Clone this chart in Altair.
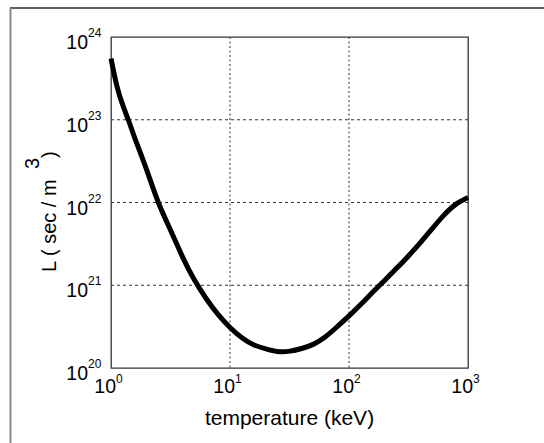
import altair as alt
import pandas as pd

# Curve (temperature in keV, L in sec/m^3)
temperature = [1, 1.12, 1.26, 1.41, 1.58, 2.0, 2.5, 3.2, 4.0, 5.0, 6.3, 7.9, 10, 12.6,
               15.8, 20, 25, 32, 40, 50, 63, 79, 100, 126, 158, 200, 251, 316, 398,
               501, 631, 794, 1000]
lawson = [5.5e23, 2.57e23, 1.48e23, 9.66e22, 6.1e22, 2.45e22, 1.0e22, 4.47e21, 2.19e21,
          1.17e21, 6.92e20, 4.47e20, 3.09e20, 2.32e20, 1.91e20, 1.70e20, 1.585e20,
          1.60e20, 1.72e20, 1.93e20, 2.37e20, 3.13e20, 4.27e20, 5.89e20, 8.22e20,
          1.15e21, 1.60e21, 2.26e21, 3.27e21, 4.84e21, 7.08e21, 9.55e21, 1.15e22]

x_ticks = [1, 10, 100, 1000]
x_exps = ["0", "1", "2", "3"]
y_ticks = [1e20, 1e21, 1e22, 1e23, 1e24]
y_exps = ["20", "21", "22", "23", "24"]

W, H = 357, 331
FONT = "Liberation Sans"

curve_df = pd.DataFrame({"T": temperature, "L": lawson})
xs = alt.Scale(type="log", domain=[1, 1000])
ys = alt.Scale(type="log", domain=[1e20, 1e24])

grid_x = alt.Chart(pd.DataFrame({"v": [10, 100]})).mark_rule(
    color="#333", strokeWidth=1, strokeDash=[2, 2.5]
).encode(x=alt.X("v:Q", scale=xs, axis=None))

grid_y = alt.Chart(pd.DataFrame({"v": [1e21, 1e22, 1e23]})).mark_rule(
    color="#333", strokeWidth=1, strokeDash=[3, 3]
).encode(y=alt.Y("v:Q", scale=ys, axis=None))

line = alt.Chart(curve_df).mark_line(color="black", strokeWidth=5, interpolate="natural").encode(
    x=alt.X("T:Q", scale=xs, axis=None),
    y=alt.Y("L:Q", scale=ys, axis=None),
)

xdf = pd.DataFrame({"v": x_ticks, "e": x_exps, "b": ["10"] * 4, "lo": [1e20] * 4})
ydf = pd.DataFrame({"v": y_ticks, "e": y_exps, "b": ["10"] * 5, "lo": [1] * 5})

x_base = alt.Chart(xdf).mark_text(
    font=FONT, fontSize=19.5, align="right", baseline="alphabetic", dx=5, dy=25, color="black"
).encode(x=alt.X("v:Q", scale=xs, axis=None), y=alt.Y("lo:Q", scale=ys, axis=None), text="b:N")
x_exp = alt.Chart(xdf).mark_text(
    font=FONT, fontSize=12, align="left", baseline="alphabetic", dx=5, dy=15, color="black"
).encode(x=alt.X("v:Q", scale=xs, axis=None), y=alt.Y("lo:Q", scale=ys, axis=None), text="e:N")

y_base = alt.Chart(ydf).mark_text(
    font=FONT, fontSize=19.5, align="right", baseline="alphabetic", dx=-23, dy=12, color="black"
).encode(y=alt.Y("v:Q", scale=ys, axis=None), x=alt.X("lo:Q", scale=xs, axis=None), text="b:N")
y_exp = alt.Chart(ydf).mark_text(
    font=FONT, fontSize=12, align="left", baseline="alphabetic", dx=-23, dy=0, color="black"
).encode(y=alt.Y("v:Q", scale=ys, axis=None), x=alt.X("lo:Q", scale=xs, axis=None), text="e:N")

x_title = alt.Chart(pd.DataFrame({"t": ["temperature (keV)"]})).mark_text(
    font=FONT, fontSize=21, align="center", baseline="alphabetic", color="black"
).encode(x=alt.value(W / 2), y=alt.value(388), text="t:N")

yt1 = alt.Chart(pd.DataFrame({"t": ["L ( sec / m "]})).mark_text(
    font=FONT, fontSize=20, align="left", baseline="alphabetic", angle=270, color="black"
).encode(x=alt.value(-55), y=alt.value(235), text="t:N")
yt2 = alt.Chart(pd.DataFrame({"t": ["3"]})).mark_text(
    font=FONT, fontSize=20, align="left", baseline="alphabetic", angle=270, color="black"
).encode(x=alt.value(-72), y=alt.value(132), text="t:N")
yt3 = alt.Chart(pd.DataFrame({"t": [" )"]})).mark_text(
    font=FONT, fontSize=20, align="left", baseline="alphabetic", angle=270, color="black"
).encode(x=alt.value(-55), y=alt.value(121), text="t:N")

frame_top = alt.Chart(pd.DataFrame({"a": [0]})).mark_rule(color="#2a2a2a", strokeWidth=1.5).encode(
    x=alt.value(-101), x2=alt.value(440), y=alt.value(-29)
)
frame_left = alt.Chart(pd.DataFrame({"a": [0]})).mark_rule(color="#8a8a8a", strokeWidth=2).encode(
    x=alt.value(-100.5), y=alt.value(-29), y2=alt.value(410)
)

chart = alt.layer(
    grid_x, grid_y, line, x_base, x_exp, y_base, y_exp, x_title, yt1, yt2, yt3,
    frame_top, frame_left
).properties(
    width=W, height=H,
    padding={"left": 111, "top": 37, "right": 76, "bottom": 75},
    autosize=alt.AutoSizeParams(type="none"),
    background="white",
).configure_view(stroke="#333", strokeWidth=1.3)

chart.save("out.html", embed_options={"renderer": "svg", "actions": False})
